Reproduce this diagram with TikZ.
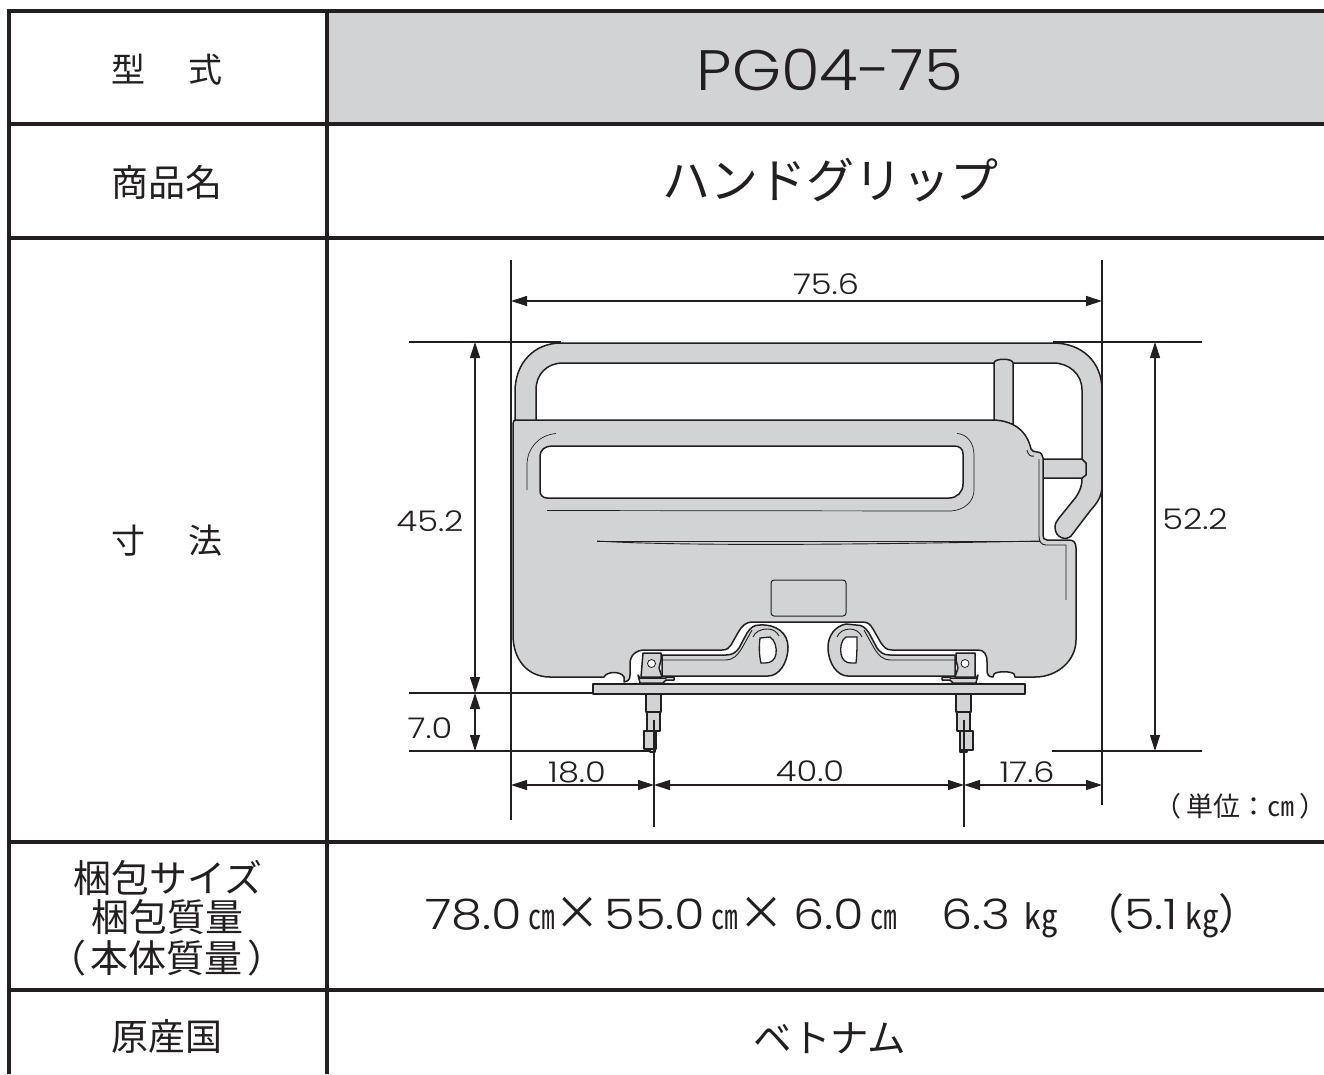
\documentclass[tikz,border=0pt]{standalone}
\usepackage{graphicx}
\usepackage{fontspec}
\setmainfont{Poppins}[UprightFont=* Light]
\newfontfamily\wideA{Poppins}[UprightFont=* Light,FakeStretch=1.1]
\newfontfamily\wideB{Poppins}[UprightFont=* Light,FakeStretch=1.18]
\newfontfamily\jp{Noto Sans CJK JP}
\usetikzlibrary{arrows.meta}
\definecolor{gr}{HTML}{D1D3D4}
\definecolor{ink}{HTML}{231F20}
\newcommand{\cmu}{\scalebox{.95}[1.25]{\jp\fontsize{28}{30}\selectfont ㎝}}
\newcommand{\kgu}{\scalebox{1.2}[1.25]{\jp\fontsize{28}{30}\selectfont ㎏}}
\newcommand{\tms}{{\jp\fontsize{46}{50}\selectfont ×}}
\tikzset{
  x=1pt,y=-1pt,
  rule/.style={line width=3.6pt,ink},
  part/.style={fill=gr,draw=ink,line width=1.5pt,line join=round},
  thin part/.style={draw=ink,line width=0.9pt},
  dim/.style={line width=1.2pt,ink},
  dima/.style={line width=1.2pt,ink,{Stealth[length=16pt,width=10pt,inset=0pt]}-{Stealth[length=16pt,width=10pt,inset=0pt]}},
  jl/.style={font=\jp\fontsize{36}{40}\selectfont,text=ink,inner sep=0pt,align=center},
  num/.style={font=\wideB\fontsize{28.5}{34}\selectfont,text=ink,inner sep=0pt},
}
\begin{document}
\begin{tikzpicture}
\useasboundingbox (0,0) rectangle (1324,1074);
\fill[white] (0,0) rectangle (1324,1074);
% table
\fill[gr] (327,11) rectangle (1324,124);
\draw[rule] (1324,11) -- (9,11) -- (9,1074);
\draw[rule] (327,11) -- (327,1074);
\foreach \yy in {124,238,842,990} \draw[rule] (9,\yy) -- (1324,\yy);
% texts
\node[jl,font=\jp\fontsize{34}{38}\selectfont] (t1) at (167,70) {型\hspace{44pt}式};
\node[jl,font=\jp\fontsize{37}{40}\selectfont] (t2) at (167,182) {商品名};
\node[jl,font=\jp\fontsize{34}{38}\selectfont] (t3) at (167,541) {寸\hspace{44pt}法};
\node[jl,font=\jp\fontsize{38}{42}\selectfont] (t4) at (168,878) {梱包サイズ};
\node[jl,font=\jp\fontsize{38}{42}\selectfont] (t5) at (167,917) {梱包質量};
\node[jl,font=\jp\fontsize{38}{42}\selectfont] (t6) at (167,958) {（\hspace{5pt}本体質量\hspace{5pt}）};
\node[jl,font=\jp\fontsize{37}{40}\selectfont] (t7) at (167,1036) {原産国};
\node[inner sep=0pt,text=ink,font=\wideA\fontsize{57}{64}\selectfont] (v1) at (830,70) {PG04-75};
\node[jl,font=\jp\fontsize{48}{54}\selectfont] (v2) at (830,180) {ハンドグリップ};
\node[inner sep=0pt,anchor=west,text=ink,font=\wideB\fontsize{42}{48}\selectfont] (v3) at (425,916)
 {78.0\hspace{6pt}\cmu\tms\hspace{4pt}55.0\hspace{6pt}\cmu\tms\hspace{9pt}6.0\hspace{7pt}\cmu\hspace{44pt}6.3\hspace{14pt}\kgu\hspace{24pt}{\jp （}5.1\hspace{7pt}\kgu{\jp ）}};
\node[jl,font=\jp\fontsize{38.5}{42}\selectfont] (v4) at (830,1038) {ベトナム};
\node[jl,font=\jp\fontsize{27}{30}\selectfont] (unit) at (1240,806) {（\hspace{5pt}単位：㎝\hspace{5pt}）};
% handle
\draw[part] (515,421) -- (515,392) .. controls (515,362) and (535,343) .. (561,343)
  -- (1053,343) .. controls (1082,343) and (1102,362) .. (1102,390)
  -- (1102,485) .. controls (1102,497) and (1097,503) .. (1090,511)
  -- (1071,536) .. controls (1066,541) and (1055,538) .. (1055,527)
  .. controls (1055,523) and (1057,521) .. (1059,518)
  -- (1076,497) .. controls (1080,491) and (1082,486) .. (1082,478)
  -- (1082,390) .. controls (1082,374) and (1069,363) .. (1053,363)
  -- (563,363) .. controls (547,363) and (536,374) .. (536,390)
  -- (536,421) -- cycle;
% post
\draw[part] (994,424) -- (994,363) .. controls (994,358) and (1013,358) .. (1013,363) -- (1013,424) -- cycle;
% side arm
\draw[part] (1040,459) -- (1082,459) -- (1086,463) -- (1086,475) -- (1082,478) -- (1040,478) -- cycle;
% body
\draw[part] (513,424) .. controls (513,421) and (514,420) .. (516,420)
  -- (994,420) .. controls (1014,421) and (1027,431) .. (1031,449)
  .. controls (1032,452) and (1034,451) .. (1037,452)
  .. controls (1041,452) and (1043,455) .. (1043,458)
  -- (1043,535) .. controls (1043,538) and (1044,540) .. (1047,540)
  -- (1069,540) .. controls (1074,540) and (1076,543) .. (1076,548)
  -- (1076,640) .. controls (1076,660) and (1058,677) .. (1035,677)
  -- (1015,677) -- (1014,674) .. controls (1011,671) and (997,671) .. (994,674) -- (993,677)
  .. controls (989,677) and (987,675) .. (987,670) -- (987,662)
  .. controls (987,654) and (984,650) .. (978,650)
  -- (892,650) .. controls (886,650) and (884,647) .. (881,643)
  -- (873,629) .. controls (870,624) and (868,622) .. (862,622)
  -- (752,622) .. controls (746,622) and (742,626) .. (739,631)
  -- (731,645) .. controls (729,648) and (727,650) .. (722,650)
  -- (645,650) .. controls (636,650) and (630,655) .. (630,664)
  -- (630,675) .. controls (630,680) and (628,681) .. (624,682)
  -- (624,677) .. controls (621,671) and (607,671) .. (604,677)
  -- (550,677) .. controls (528,677) and (513,660) .. (513,635) -- cycle;
% window
\draw[fill=white,draw=ink,line width=1.5pt] (552,446) -- (954,446) .. controls (960,446) and (963,449) .. (963,454)
  -- (963,484) .. controls (963,492) and (957,498) .. (949,498)
  -- (547,498) .. controls (543,498) and (540,495) .. (540,491)
  -- (540,456) .. controls (540,450) and (545,446) .. (552,446) -- cycle;
% body detail lines
\draw[thin part,line width=0.7pt] (556,433.5) .. controls (539,435) and (527,448) .. (527,465) -- (527,490);
\draw[thin part,line width=0.7pt] (957,433.5) .. controls (967,434) and (974,443) .. (974,455) -- (974,490)
  .. controls (974,501) and (965,510) .. (951,511) -- (547,510.5);
\draw[thin part] (597,541) .. controls (660,545) and (800,546) .. (1040,541);
\draw[thin part] (597,541) -- (1040,541);
\draw[thin part] (1027,450) .. controls (1028,455) and (1031,457) .. (1034,456);
\draw[thin part] (1039,459) -- (1039,536) .. controls (1039,541) and (1041,545) .. (1046,545) -- (1066,545) -- (1066,600);
\draw[line width=1pt,ink,rounded corners=3pt] (771,580) rectangle (846,616);
% left bracket
\draw[part] (662,655) -- (726,655) .. controls (733,655) and (736,652) .. (739,648)
  -- (747,633) .. controls (751,627) and (754,625) .. (760,625)
  .. controls (776,624) and (788,633) .. (788,647)
  .. controls (788,663) and (779,676) .. (768,676) -- (662,676) -- cycle;
\draw[thin part] (662,660) -- (725,660) .. controls (733,660) and (737,656) .. (742,648) -- (752,630);
\draw[thin part] (753,637) .. controls (755,632) and (760,629) .. (768,629) .. controls (773,629) and (777,632) .. (779,636);
\draw[fill=white,draw=ink,line width=1.3pt] (760,638) -- (770,637) .. controls (775,640) and (777,648) .. (776,654) .. controls (775,660) and (771,663) .. (765,663) -- (761,663) .. controls (759,655) and (759,646) .. (760,638) -- cycle;
\draw[part] (643,653) -- (661,653) -- (661,660) -- (659,668) -- (662,677) -- (641,677) -- cycle;
\draw[fill=white,draw=ink,line width=0.8pt] (651.5,663.5) circle (4pt);
\draw[part] (638,675) -- (640,678) -- (666,678) -- (666,677) -- (674,677) -- (674,680) -- (666,680) -- (663,683) -- (640,683) -- cycle;
% right bracket
\draw[part] (955,655) -- (890,655) .. controls (883,655) and (880,652) .. (877,648)
  -- (869,633) .. controls (865,627) and (862,625) .. (856,625)
  -- (846,624) .. controls (835,626) and (828,636) .. (828,647)
  .. controls (828,663) and (837,676) .. (848,676) -- (955,676) -- cycle;
\draw[thin part] (955,660) -- (891,660) .. controls (883,660) and (879,656) .. (874,648) -- (864,630);
\draw[thin part] (837,637) .. controls (839,632) and (844,629) .. (850,629) .. controls (855,629) and (860,632) .. (862,637);
\draw[fill=white,draw=ink,line width=1.3pt] (857,637) -- (846,637) .. controls (841,640) and (840,648) .. (841,654) .. controls (842,660) and (846,663) .. (851,663) -- (856,663) .. controls (857,655) and (857,646) .. (857,637) -- cycle;
\draw[part] (956,653) -- (975,653) -- (975,677) -- (955,677) -- (958,668) -- (956,660) -- cycle;
\draw[fill=white,draw=ink,line width=0.8pt] (965,663.5) circle (4pt);
\draw[part] (978,675) -- (976,678) -- (950,678) -- (950,677) -- (942,677) -- (942,680) -- (950,680) -- (953,683) -- (976,683) -- cycle;
% plate
\draw[part,fill=gr,line width=1.8pt] (593,684) rectangle (1025,694);
% bolts
\draw[part] (646,694) rectangle (661,712);
\draw[part] (647,712) rectangle (660,731);
\draw[part] (644,731) rectangle (656,749);
\draw[part] (650,749) rectangle (655,752);
\draw[part] (956,694) rectangle (971,712);
\draw[part] (957,712) rectangle (970,731);
\draw[part] (960,731) rectangle (973,750);
\draw[part] (960,750) rectangle (967,752);
% dimension coordinates
\coordinate (xa) at (511,260); \coordinate (xab) at (511,820);
\coordinate (xb) at (1102,260); \coordinate (xbb) at (1102,805);
\coordinate (xc) at (654,720); \coordinate (xcb) at (654,827);
\coordinate (xd) at (964,720); \coordinate (xdb) at (964,827);
\coordinate (ta) at (409,342); \coordinate (tb) at (561,342);
\coordinate (tc) at (1053,342); \coordinate (td) at (1202,342);
\coordinate (pa) at (409,693); \coordinate (pb) at (593,693);
\coordinate (ba) at (409,751); \coordinate (bb) at (650,751);
\coordinate (bc) at (1052,751); \coordinate (bd) at (1202,751);
\draw[dim] (xa) -- (xab); \draw[dim] (xb) -- (xbb);
\draw[dim] (xc) -- (xcb); \draw[dim] (xd) -- (xdb);
\draw[dim] (ta) -- (tb); \draw[dim] (tc) -- (td);
\draw[dim] (pa) -- (pb); \draw[dim] (ba) -- (bb); \draw[dim] (bc) -- (bd);
\coordinate (a1) at (511,301); \coordinate (a2) at (1102,301);
\draw[dima] (a1) -- (a2);
\coordinate (b1) at (475,342); \coordinate (b2) at (475,693); \coordinate (b3) at (475,751);
\draw[dima] (b1) -- (b2); \draw[dima] (b2) -- (b3);
\coordinate (c1) at (1155,342); \coordinate (c2) at (1155,751);
\draw[dima] (c1) -- (c2);
\coordinate (d1) at (511,785); \coordinate (d2) at (654,785); \coordinate (d3) at (964,785); \coordinate (d4) at (1102,785);
\draw[dima] (d1) -- (d2); \draw[dima] (d2) -- (d3); \draw[dima] (d3) -- (d4);
\node[num] (n1) at (826,284) {75.6};
\node[num] (n2) at (430,521) {45.2};
\node[num] (n3) at (1195,519) {52.2};
\node[num] (n4) at (430,728) {7.0};
\node[num] (n5) at (577,772) {18.0};
\node[num] (n6) at (810,771) {40.0};
\node[num] (n7) at (1027,772) {17.6};
\end{tikzpicture}
\end{document}
